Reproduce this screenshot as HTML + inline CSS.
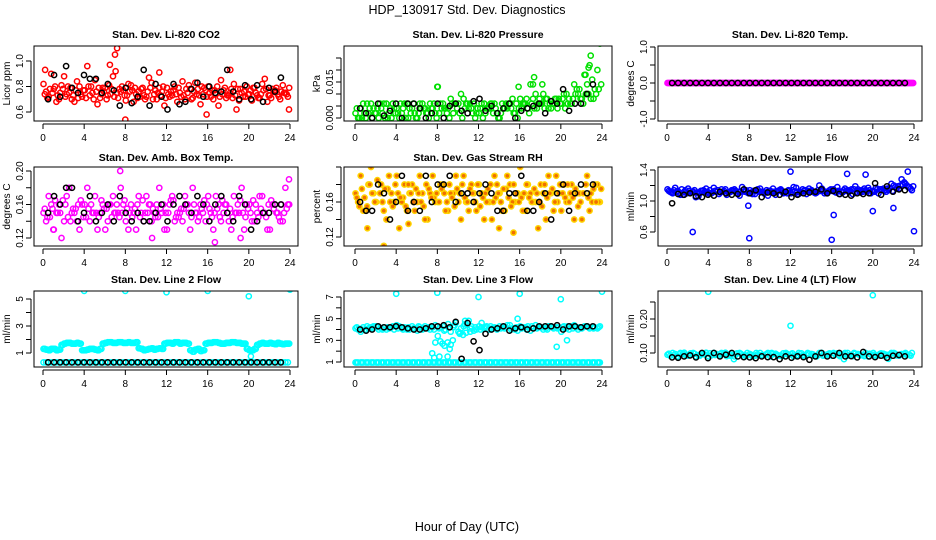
<!DOCTYPE html>
<html><head><meta charset="utf-8">
<style>
html,body{margin:0;padding:0;background:#fff;}
svg{display:block;font-family:"Liberation Sans",Arial,sans-serif;}
</style></head>
<body>
<svg id="chart" width="936" height="540" viewBox="0 0 936 540">
<text x="467" y="14" font-size="12.5" text-anchor="middle">HDP_130917  Std. Dev. Diagnostics</text>
<text x="467" y="531" font-size="12.5" text-anchor="middle">Hour of Day (UTC)</text>
</svg>
<script>
// ---------- data ----------
const xTicks = [0,4,8,12,16,20,24];
const co2A = [0.82,0.72,0.78,0.70,0.88,0.75,0.68,0.80,0.77,0.73,0.85,0.71,0.79,0.74,0.92,0.76,0.69,0.81,0.74,0.78,0.72,0.83,0.70,0.76,0.79,0.73,0.68,0.84,0.75,0.71,0.78,0.74,0.80,0.70,0.65,0.77,0.73,0.82,0.69,0.76,0.74,0.79,0.71,0.86,0.73,0.77,0.70,0.75];
const co2B = [0.76,0.90,0.68,0.81,0.74,0.70,0.84,0.72,0.96,0.75,0.66,0.79,0.73,0.88,0.71,0.77,0.82,0.68,0.76,0.73,0.87,0.74,0.79,0.65,0.72,0.80,0.75,0.70,0.78,0.83,0.66,0.77,0.72,0.74,0.85,0.71,0.78,0.62,0.75,0.80,0.69,0.73,0.82,0.68,0.78,0.74,0.81,0.72];
const co2C = [0.74,0.78,0.80,0.75,0.72,0.79,0.77,0.74,0.71,0.80,0.76,0.74,0.70,0.78,0.75,0.80,0.73,0.77,0.71,0.79,0.76,0.70,0.75,0.80,0.74,0.77,0.79,0.73,0.81,0.76,0.73,0.79,0.75,0.77,0.72,0.79,0.75,0.73,0.78,0.72,0.77,0.75,0.74,0.78,0.71,0.79,0.76,0.74];
const co2D = [0.71,0.75,0.73,0.78,0.80,0.73,0.71,0.77,0.80,0.70,0.79,0.76,0.81,0.72,0.78,0.73,0.76,0.79,0.72,0.70,0.79,0.77,0.73,0.71,0.76,0.74,0.72,0.78,0.70,0.74,0.80,0.72,0.77,0.80,0.74,0.73,0.71,0.78,0.72,0.74,0.79,0.71,0.77,0.73,0.76,0.72,0.75,0.79];
const co2Black = [0.70,0.89,0.72,0.96,0.79,0.75,0.89,0.86,0.86,0.75,0.82,0.77,0.65,0.79,0.67,0.72,0.93,0.65,0.82,0.72,0.62,0.82,0.66,0.68,0.78,0.83,0.72,0.80,0.75,0.76,0.93,0.76,0.70,0.81,0.70,0.81,0.68,0.79,0.76,0.87];
const co2OutT = [7.2,7.0,6.5,8.0,15.9,0.2,23.9,11.3,18.2];
const co2OutV = [1.10,1.05,0.97,0.54,0.58,0.93,0.62,0.91,0.93];
const co2Ticks = [0.6,0.8,1.0];

const presA = [0.002,0.004,0,0.006,0.002,0.004,0.006,0,0.004,0.002,0.006,0.004,0,0.006,0.002,0.004,0.013,0.006,0.004,0.002,0.006,0.008,0.004,0.006,0.002,0.006,0.004,0.006,0,0.004,0.006,0.002,0.008,0.006,0.014,0.010,0.006,0.008,0.004,0.008,0.006,0.010,0.006,0.012,0.008,0.014,0.016,0.020];
const presB = [0,0.006,0.002,0.004,0,0.006,0.002,0.004,0,0.006,0.004,0.002,0.006,0.004,0.006,0.002,0.006,0.004,0.008,0.006,0.010,0.006,0.004,0.002,0.006,0.004,0.006,0.002,0.006,0.004,0.008,0,0.006,0.004,0.008,0.006,0.010,0.004,0.006,0.008,0.010,0.008,0.014,0.012,0.018,0.022,0.012,0.031];
const presC = [0.004,0,0.006,0,0.004,0.002,0,0.006,0.002,0.004,0,0.006,0.002,0.004,0,0.006,0.002,0.004,0,0.006,0.002,0.004,0.006,0,0.004,0.002,0.006,0.004,0.002,0.006,0.004,0.006,0.004,0.008,0.006,0.004,0.006,0.008,0.006,0.004,0.008,0.006,0.008,0.010,0.006,0.010,0.008,0.012];
const presD = [0,0.002,0.004,0.002,0.006,0,0.004,0.002,0.006,0,0.002,0,0.004,0.002,0.004,0,0.004,0.002,0.006,0.004,0,0.006,0.002,0.004,0,0.004,0.002,0,0.004,0.006,0.002,0.004,0.006,0.002,0.004,0.008,0.004,0.006,0.008,0.006,0.004,0.006,0.010,0.008,0.010,0.008,0.010,0.014];
const presBlack = [0.004,0.002,0,0.006,0.001,0.003,0.006,0,0.006,0.006,0.004,0,0.002,0.006,0,0.005,0.006,0.003,0.002,0.007,0.008,0.003,0.005,0.002,0.004,0.006,0,0.003,0.004,0.005,0.006,0.002,0.007,0.006,0.012,0.003,0.006,0.006,0.010,0.014];
const presOutT = [8.0,17.4,17.3,22.4,22.7,22.9,15.9,18.2];
const presOutV = [0.013,0.017,0.014,0.018,0.021,0.026,0.013,0.014];
const presTicks = [0,0.005,0.010,0.015,0.020,0.025];
const presLabels = ["0.000","","","0.015","",""];

const tempA = [0,0,0,0,0,0,0,0,0,0,0,0,0,0,0,0,0,0,0,0,0,0,0,0,0,0,0,0,0,0,0,0,0,0,0,0,0,0,0,0,0,0,0,0,0,0,0,0];
const tempB = [0,0,0,0,0,0,0,0,0,0,0,0,0,0,0,0,0,0,0,0,0,0,0,0,0,0,0,0,0,0,0,0,0,0,0,0,0,0,0,0,0,0,0,0,0,0,0,0];
const tempBlack = [0,0,0,0,0,0,0,0,0,0,0,0,0,0,0,0,0,0,0,0,0,0,0,0,0,0,0,0,0,0,0,0,0,0,0,0,0,0,0,0];
const tempTicks = [-1,-0.5,0,0.5,1];
const tempLabels = ["-1.0","","0.0","","1.0"];

const ambA = [0.15,0.17,0.13,0.16,0.14,0.18,0.15,0.13,0.16,0.14,0.17,0.15,0.13,0.16,0.15,0.18,0.14,0.16,0.13,0.15,0.17,0.14,0.16,0.15,0.13,0.17,0.15,0.14,0.16,0.18,0.14,0.15,0.17,0.13,0.16,0.15,0.14,0.17,0.15,0.13,0.16,0.14,0.17,0.15,0.13,0.16,0.14,0.18];
const ambB = [0.14,0.16,0.15,0.12,0.17,0.15,0.14,0.16,0.18,0.15,0.13,0.16,0.14,0.17,0.15,0.16,0.13,0.15,0.17,0.14,0.16,0.15,0.18,0.13,0.16,0.14,0.15,0.17,0.13,0.15,0.16,0.14,0.15,0.17,0.14,0.16,0.13,0.15,0.18,0.16,0.14,0.15,0.17,0.13,0.16,0.15,0.14,0.16];
const ambC = [0.155,0.145,0.165,0.15,0.16,0.14,0.155,0.165,0.145,0.16,0.15,0.165,0.155,0.145,0.16,0.15,0.155,0.145,0.16,0.165,0.15,0.155,0.145,0.16,0.15,0.165,0.145,0.155,0.15,0.16,0.145,0.165,0.155,0.15,0.145,0.16,0.155,0.15,0.165,0.145,0.15,0.16,0.155,0.145,0.165,0.15,0.16,0.155];
const ambD = [0.145,0.155,0.15,0.165,0.145,0.155,0.16,0.145,0.155,0.15,0.145,0.155,0.16,0.15,0.145,0.165,0.15,0.155,0.145,0.15,0.16,0.145,0.155,0.15,0.165,0.145,0.155,0.16,0.145,0.15,0.155,0.16,0.145,0.155,0.165,0.15,0.145,0.16,0.15,0.155,0.165,0.145,0.15,0.16,0.155,0.145,0.15,0.16];
const ambBlack = [0.15,0.17,0.16,0.18,0.18,0.14,0.15,0.17,0.14,0.15,0.16,0.14,0.17,0.15,0.14,0.15,0.14,0.14,0.15,0.16,0.14,0.16,0.17,0.16,0.15,0.17,0.16,0.14,0.16,0.17,0.15,0.14,0.17,0.16,0.13,0.14,0.15,0.15,0.16,0.16];
const ambOutT = [7.5,23.9,16.7,19.2,1.0,10.6];
const ambOutV = [0.20,0.19,0.115,0.12,0.13,0.12];
const ambTicks = [0.12,0.14,0.16,0.18,0.20];
const ambLabels = ["0.12","","0.16","","0.20"];

const rhA = [0.17,0.19,0.15,0.20,0.16,0.18,0.14,0.17,0.19,0.16,0.15,0.18,0.16,0.17,0.14,0.19,0.16,0.18,0.15,0.17,0.16,0.19,0.15,0.17,0.18,0.14,0.16,0.19,0.17,0.15,0.18,0.16,0.20,0.15,0.17,0.16,0.18,0.14,0.17,0.19,0.15,0.16,0.18,0.17,0.14,0.19,0.16,0.18];
const rhB = [0.16,0.15,0.18,0.17,0.21,0.15,0.19,0.16,0.13,0.18,0.17,0.15,0.19,0.14,0.17,0.16,0.18,0.15,0.17,0.19,0.14,0.16,0.18,0.15,0.17,0.16,0.14,0.18,0.15,0.19,0.16,0.17,0.15,0.18,0.16,0.13,0.17,0.19,0.15,0.17,0.18,0.16,0.14,0.17,0.21,0.15,0.18,0.16];
const rhC = [0.165,0.175,0.155,0.17,0.185,0.16,0.175,0.155,0.17,0.165,0.18,0.16,0.17,0.155,0.175,0.165,0.16,0.17,0.18,0.155,0.17,0.165,0.175,0.16,0.155,0.17,0.18,0.165,0.16,0.175,0.155,0.17,0.165,0.18,0.16,0.17,0.155,0.165,0.175,0.16,0.17,0.18,0.165,0.155,0.17,0.165,0.175,0.16];
const rhD = [0.155,0.165,0.18,0.16,0.17,0.175,0.16,0.18,0.165,0.155,0.17,0.175,0.16,0.18,0.165,0.17,0.175,0.16,0.165,0.175,0.18,0.16,0.17,0.18,0.165,0.175,0.16,0.17,0.175,0.165,0.18,0.16,0.17,0.165,0.175,0.16,0.18,0.17,0.16,0.18,0.165,0.17,0.175,0.16,0.18,0.17,0.16,0.175];
const rhBlack = [0.16,0.15,0.15,0.18,0.17,0.14,0.16,0.19,0.15,0.16,0.15,0.19,0.16,0.18,0.18,0.19,0.16,0.17,0.17,0.16,0.17,0.18,0.17,0.15,0.15,0.17,0.17,0.19,0.15,0.15,0.16,0.17,0.14,0.17,0.18,0.15,0.17,0.18,0.17,0.18];
const rhOutT = [2.0,3.9,20.8,14.0,15.4,2.8,1.2,5.2];
const rhOutV = [0.215,0.215,0.215,0.13,0.125,0.11,0.13,0.135];
const rhTicks = [0.12,0.14,0.16,0.18,0.20];
const rhLabels = ["0.12","","0.16","",""];

const flowA = [1.15,1.10,1.13,1.08,1.16,1.12,1.06,1.14,1.10,1.17,1.09,1.13,1.11,1.15,1.07,1.12,1.14,1.09,1.16,1.11,1.13,1.08,1.15,1.12,1.10,1.17,1.12,1.09,1.14,1.11,1.16,1.10,1.13,1.18,1.11,1.14,1.09,1.15,1.12,1.17,1.13,1.10,1.16,1.14,1.20,1.16,1.24,1.18];
const flowB = [1.12,1.17,1.08,1.14,1.11,1.05,1.13,1.16,1.10,1.12,1.15,1.08,1.14,1.10,1.18,1.11,1.09,1.15,1.12,1.07,1.16,1.13,1.10,1.14,1.18,1.09,1.13,1.16,1.11,1.20,1.10,1.14,1.12,1.09,1.16,1.13,1.19,1.11,1.14,1.10,1.17,1.15,1.12,1.22,1.16,1.28,1.20,1.14];
const flowC = [1.13,1.14,1.11,1.12,1.13,1.14,1.10,1.12,1.14,1.13,1.11,1.15,1.12,1.13,1.12,1.14,1.11,1.13,1.12,1.14,1.11,1.12,1.13,1.10,1.14,1.12,1.15,1.13,1.12,1.14,1.13,1.12,1.15,1.13,1.14,1.12,1.15,1.13,1.16,1.14,1.12,1.15,1.14,1.17,1.18,1.20,1.22,1.16];
const flowD = [1.11,1.12,1.15,1.10,1.12,1.11,1.13,1.12,1.11,1.14,1.12,1.11,1.13,1.12,1.14,1.10,1.13,1.12,1.10,1.13,1.12,1.14,1.11,1.13,1.12,1.11,1.14,1.12,1.10,1.13,1.12,1.15,1.11,1.12,1.13,1.15,1.12,1.14,1.13,1.12,1.15,1.14,1.16,1.13,1.19,1.21,1.18,1.19];
const flowBlack = [0.97,1.09,1.08,1.10,1.06,1.05,1.08,1.07,1.12,1.10,1.08,1.09,1.15,1.10,1.14,1.05,1.11,1.10,1.08,1.12,1.05,1.08,1.10,1.11,1.12,1.15,1.10,1.13,1.09,1.08,1.07,1.10,1.09,1.10,1.23,1.08,1.19,1.12,1.15,1.14];
const flowOutT = [2.5,8.0,16.0,16.2,20.0,22.0,24.0,12.0,17.5,19.3,23.4,7.9];
const flowOutV = [0.60,0.52,0.50,0.82,0.87,0.91,0.61,1.38,1.35,1.34,1.38,0.94];
const flowTicks = [0.6,0.8,1.0,1.2,1.4];
const flowLabels = ["0.6","","1.0","","1.4"];

const l2A = [1.3,1.2,1.3,1.25,1.7,1.75,1.7,1.7,1.2,1.3,1.25,1.3,1.75,1.8,1.75,1.8,1.75,1.75,1.8,1.3,1.25,1.35,1.3,1.3,1.75,1.7,1.8,1.75,1.7,1.1,1.3,1.2,1.75,1.8,1.75,1.7,1.75,1.8,1.75,1.7,1.2,1.3,1.7,1.7,1.75,1.65,1.7,1.7];
const l2B = [1.25,1.3,1.2,1.6,1.75,1.7,1.75,1.2,1.25,1.3,1.2,1.7,1.8,1.75,1.8,1.75,1.8,1.75,1.35,1.2,1.3,1.25,1.35,1.7,1.75,1.8,1.7,1.75,1.2,1.25,1.15,1.7,1.75,1.8,1.7,1.75,1.8,1.75,1.7,1.3,1.2,1.6,1.75,1.7,1.7,1.75,1.65,1.7];
const l2Base = [0.3,0.3,0.3,0.3,0.3,0.3,0.3,0.3,0.3,0.3,0.3,0.3,0.3,0.3,0.3,0.3,0.3,0.3,0.3,0.3,0.3,0.3,0.3,0.3,0.3,0.3,0.3,0.3,0.3,0.3,0.3,0.3,0.3,0.3,0.3,0.3,0.3,0.3,0.3,0.3,0.3,0.3,0.3,0.3,0.3,0.3,0.3,0.3];
const l2Black = [0.3,0.3,0.3,0.3,0.3,0.3,0.3,0.3,0.3,0.3,0.3,0.3,0.3,0.3,0.3,0.3,0.3,0.3,0.3,0.3,0.3,0.3,0.3,0.3,0.3,0.3,0.3,0.3,0.3,0.3,0.3,0.3,0.3,0.3,0.3,0.3,0.3,0.3,0.3,0.3];
const l2OutT = [4,8,12,16,20,24,20.2];
const l2OutV = [5.6,5.6,5.5,5.6,5.2,5.7,0.75];
const l2Ticks = [1,2,3,4,5];
const l2Labels = ["1","","3","","5"];

const l3A = [4.1,3.8,4.0,4.2,4.3,4.1,4.0,4.2,4.4,4.1,4.0,4.3,3.9,4.0,4.1,4.2,3.4,4.3,4.5,4.2,3.8,4.3,4.8,3.9,4.3,4.1,4.0,4.2,4.3,4.1,4.4,4.0,4.3,4.2,3.9,4.4,4.2,4.1,4.3,4.2,3.8,4.1,4.3,4.2,4.1,4.3,4.2,4.1];
const l3B = [4.0,4.2,4.1,4.3,4.0,4.2,4.1,4.0,4.3,4.2,4.0,4.1,4.2,4.3,4.0,4.4,4.2,4.0,3.8,4.6,4.1,3.7,4.3,4.0,4.2,4.3,4.1,4.0,4.2,4.4,4.1,3.9,4.2,4.3,4.1,4.2,4.0,4.3,4.1,4.2,4.3,4.0,4.4,4.2,4.3,4.1,4.2,4.3];
const l3C = [4.2,4.0,4.3,4.1,4.2,4.0,4.2,4.3,4.1,4.0,4.2,4.1,4.3,4.1,4.2,4.0,4.1,3.9,4.2,4.4,3.6,4.5,4.1,4.2,4.0,4.2,4.3,4.1,4.1,4.2,4.0,4.2,4.1,4.0,4.3,4.1,4.2,4.0,4.2,4.1,4.2,4.3,4.1,4.0,4.2,4.2,4.1,4.2];
const l3Base = [0.95,0.95,0.95,0.95,0.95,0.95,0.95,0.95,0.95,0.95,0.95,0.95,0.95,0.95,0.95,0.95,0.95,0.95,0.95,0.95,0.95,0.95,0.95,0.95,0.95,0.95,0.95,0.95,0.95,0.95,0.95,0.95,0.95,0.95,0.95,0.95,0.95,0.95,0.95,0.95,0.95,0.95,0.95,0.95,0.95,0.95,0.95,0.95];
const l3Black = [4.0,3.9,4.0,4.3,4.2,4.2,4.3,4.2,4.1,4.0,4.0,4.1,4.3,4.3,4.4,4.2,4.7,1.3,4.6,2.9,2.1,3.6,4.0,4.1,4.3,3.9,4.1,4.2,4.0,4.1,4.3,4.3,4.3,4.4,4.0,4.3,4.3,4.2,4.3,4.3];
const l3OutT = [4,8,12,16,20,24,7.5,7.8,8.3,8.7,9.0,9.2,9.5,8.2,9.0,7.7,10.7,10.5,12.3,15.8,19.6,20.6,10.9,11.2,8.5,9.3,10.2];
const l3OutV = [7.3,7.4,7.0,7.3,6.8,7.5,1.8,2.8,2.9,2.5,2.8,2.2,3.0,1.5,1.5,1.4,4.8,3.5,4.6,5.0,2.4,3.0,4.4,3.8,2.7,2.6,3.7];
const l3Ticks = [1,2,3,4,5,6,7];
const l3Labels = ["1","","3","","5","","7"];

const l4A = [0.095,0.10,0.09,0.098,0.092,0.10,0.094,0.097,0.09,0.10,0.093,0.098,0.096,0.09,0.10,0.094,0.097,0.092,0.10,0.095,0.09,0.098,0.093,0.10,0.096,0.091,0.099,0.094,0.097,0.09,0.10,0.095,0.092,0.099,0.094,0.10,0.091,0.097,0.095,0.09,0.10,0.093,0.098,0.094,0.10,0.092,0.097,0.095];
const l4B = [0.092,0.097,0.10,0.094,0.099,0.09,0.096,0.101,0.093,0.097,0.10,0.091,0.095,0.099,0.093,0.10,0.09,0.096,0.094,0.10,0.097,0.092,0.099,0.095,0.091,0.10,0.094,0.098,0.092,0.10,0.095,0.099,0.097,0.091,0.10,0.094,0.098,0.093,0.10,0.096,0.092,0.099,0.095,0.10,0.093,0.097,0.094,0.10];
const l4C = [0.098,0.093,0.096,0.101,0.095,0.098,0.092,0.096,0.099,0.094,0.097,0.101,0.092,0.096,0.098,0.091,0.095,0.10,0.093,0.097,0.10,0.095,0.091,0.097,0.099,0.094,0.092,0.10,0.096,0.094,0.092,0.097,0.10,0.094,0.096,0.092,0.10,0.095,0.091,0.098,0.095,0.097,0.091,0.096,0.098,0.095,0.10,0.092];
const l4Black = [0.087,0.086,0.09,0.093,0.087,0.10,0.085,0.10,0.09,0.095,0.10,0.09,0.088,0.087,0.085,0.09,0.088,0.088,0.082,0.09,0.086,0.09,0.088,0.08,0.09,0.10,0.09,0.092,0.10,0.09,0.091,0.087,0.103,0.09,0.088,0.092,0.086,0.092,0.094,0.09];
const l4OutT = [4,12,20,6.5,17.2,21.5];
const l4OutV = [0.28,0.18,0.27,0.082,0.082,0.083];
const l4Ticks = [0.10,0.15,0.20,0.25];
const l4Labels = ["0.10","","0.20",""];

// ---------- layout (not data) ----------
const NS = "http://www.w3.org/2000/svg";
const svg = document.getElementById('chart');
const cols = [{bl:34,br:298,x0:43,x24:290},{bl:344,br:612,x0:355,x24:602},{bl:658,br:922,x0:667,x24:914}];
const rows = [{bt:46,bb:121,ty:38},{bt:167,bb:246,ty:161},{bt:291,bb:367,ty:283}];

function mk(tag, attrs){const e=document.createElementNS(NS,tag);for(const k in attrs)e.setAttribute(k,attrs[k]);return e;}

function panel(p){
  const c=cols[p.col], r=rows[p.row];
  const g=mk('g',{});
  
  
  svg.appendChild(g);
  const xs=v=>c.x0+(v/24)*(c.x24-c.x0);
  const ys=v=>p.ry0+(v-p.rv0)*(p.ry1-p.ry0)/(p.rv1-p.rv0);
  const clip='clip-'+p.name;
  const cp=mk('clipPath',{id:clip});
  cp.appendChild(mk('rect',{x:c.bl,y:r.bt,width:c.br-c.bl,height:r.bb-r.bt}));
  g.appendChild(cp);
  const t=mk('text',{x:(c.bl+c.br)/2,y:r.ty,'font-size':'10.5','font-weight':'bold','text-anchor':'middle'});
  t.textContent=p.title;
  
  
  g.appendChild(t);
  const pts=mk('g',{'clip-path':'url(#'+clip+')'});
  
  
  g.appendChild(pts);
  function dot(tv,v,stroke,fill){
    const ci=mk('circle',{cx:xs(tv).toFixed(1),cy:ys(v).toFixed(1),r:2.6,fill:fill||'none',stroke:stroke,'stroke-width':1.5});
    
    
    pts.appendChild(ci);
  }
  p.series.forEach(s=>{
    s.vals.forEach((v,i)=>dot(s.t0+i*s.dt,v,s.stroke,s.fill));
  });
  if(p.outT) p.outT.forEach((tv,i)=>dot(tv,p.outV[i],p.outColor,p.outFill));
  p.black.forEach((v,i)=>dot(0.5+i*0.58,v,'#000'));
  const box=mk('rect',{x:c.bl,y:r.bt,width:c.br-c.bl,height:r.bb-r.bt,fill:'none',stroke:'#000','stroke-width':1});
  
  
  g.appendChild(box);
  const xa=mk('g',{});
  
  
  g.appendChild(xa);
  xa.appendChild(mk('line',{x1:xs(0),x2:xs(24),y1:r.bb+3,y2:r.bb+3,stroke:'#000'}));
  xTicks.forEach(v=>{
    xa.appendChild(mk('line',{x1:xs(v),x2:xs(v),y1:r.bb+3,y2:r.bb+8,stroke:'#000'}));
    const l=mk('text',{x:xs(v),y:r.bb+20,'font-size':'10','text-anchor':'middle'});
    l.textContent=v;
    
    
    xa.appendChild(l);
  });
  const ya=mk('g',{});
  
  
  g.appendChild(ya);
  const tk=p.ticks;
  ya.appendChild(mk('line',{x1:c.bl-3,x2:c.bl-3,y1:ys(tk[0]),y2:ys(tk[tk.length-1]),stroke:'#000'}));
  tk.forEach((v,i)=>{
    const y=ys(v);
    ya.appendChild(mk('line',{x1:c.bl-3,x2:c.bl-8,y1:y,y2:y,stroke:'#000'}));
    const lab=p.labels[i];
    if(lab){
      const l=mk('text',{x:c.bl-11,y:y,'font-size':'10','text-anchor':'middle',transform:'rotate(-90 '+(c.bl-11)+' '+y+')'});
      l.textContent=lab;
      
      
      ya.appendChild(l);
    }
  });
  const yl=mk('text',{x:c.bl-24,y:(r.bt+r.bb)/2,'font-size':'10','text-anchor':'middle',transform:'rotate(-90 '+(c.bl-24)+' '+((r.bt+r.bb)/2)+')'});
  yl.textContent=p.ylab;
  
  
  g.appendChild(yl);
}

const A=(vals,stroke,fill)=>({vals,stroke,fill,t0:0.05,dt:0.5});
const B=(vals,stroke,fill)=>({vals,stroke,fill,t0:0.3,dt:0.5});
const C=(vals,stroke,fill)=>({vals,stroke,fill,t0:0.175,dt:0.5});
const D=(vals,stroke,fill)=>({vals,stroke,fill,t0:0.425,dt:0.5});
const RED='#ff0000',GRN='#00e000',MAG='#ff00ff',BLU='#0000ff',CYA='#00ffff',YEL='#ffd400',ORG='#f07000';

panel({name:'panel-co2',col:0,row:0,title:'Stan. Dev. Li-820 CO2',ylab:'Licor ppm',rv0:0.6,ry0:112,rv1:1.0,ry1:61,ticks:co2Ticks,labels:["0.6","0.8","1.0"],series:[A(co2A,RED),B(co2B,RED),C(co2C,RED),D(co2D,RED)],outT:co2OutT,outV:co2OutV,outColor:RED,black:co2Black});
panel({name:'panel-pressure',col:1,row:0,title:'Stan. Dev. Li-820 Pressure',ylab:'kPa',rv0:0,ry0:118,rv1:0.015,ry1:82,ticks:presTicks,labels:presLabels,series:[A(presA,GRN),B(presB,GRN),C(presC,GRN),D(presD,GRN)],outT:presOutT,outV:presOutV,outColor:GRN,black:presBlack});
panel({name:'panel-temp',col:2,row:0,title:'Stan. Dev. Li-820 Temp.',ylab:'degrees C',rv0:0,ry0:83,rv1:1,ry1:47,ticks:tempTicks,labels:tempLabels,series:[A(tempA,MAG),B(tempB,MAG),C(tempA,MAG),D(tempB,MAG)],black:tempBlack});
panel({name:'panel-amb-box-temp',col:0,row:1,title:'Stan. Dev. Amb. Box Temp.',ylab:'degrees C',rv0:0.12,ry0:238,rv1:0.20,ry1:171,ticks:ambTicks,labels:ambLabels,series:[A(ambA,MAG),B(ambB,MAG),C(ambC,MAG),D(ambD,MAG)],outT:ambOutT,outV:ambOutV,outColor:MAG,black:ambBlack});
panel({name:'panel-gas-rh',col:1,row:1,title:'Stan. Dev. Gas Stream RH',ylab:'percent',rv0:0.12,ry0:237,rv1:0.16,ry1:202,ticks:rhTicks,labels:rhLabels,series:[A(rhA,YEL,ORG),B(rhB,YEL,ORG),C(rhC,YEL,ORG),D(rhD,YEL,ORG)],outT:rhOutT,outV:rhOutV,outColor:YEL,outFill:ORG,black:rhBlack});
panel({name:'panel-sample-flow',col:2,row:1,title:'Stan. Dev. Sample Flow',ylab:'ml/min',rv0:1.0,ry0:201,rv1:1.4,ry1:170,ticks:flowTicks,labels:flowLabels,series:[A(flowA,BLU),B(flowB,BLU),C(flowC,BLU),D(flowD,BLU)],outT:flowOutT,outV:flowOutV,outColor:BLU,black:flowBlack});
panel({name:'panel-line2-flow',col:0,row:2,title:'Stan. Dev. Line 2 Flow',ylab:'ml/min',rv0:1,ry0:353,rv1:5,ry1:299,ticks:l2Ticks,labels:l2Labels,series:[A(l2A,CYA),B(l2B,CYA),C(l2A,CYA),D(l2B,CYA),A(l2Base,CYA),B(l2Base,CYA)],outT:l2OutT,outV:l2OutV,outColor:CYA,black:l2Black});
panel({name:'panel-line3-flow',col:1,row:2,title:'Stan. Dev. Line 3 Flow',ylab:'ml/min',rv0:1,ry0:362,rv1:7,ry1:297,ticks:l3Ticks,labels:l3Labels,series:[A(l3A,CYA),B(l3B,CYA),C(l3C,CYA),A(l3Base,CYA),B(l3Base,CYA),C(l3Base,CYA)],outT:l3OutT,outV:l3OutV,outColor:CYA,black:l3Black});
panel({name:'panel-line4-flow',col:2,row:2,title:'Stan. Dev. Line 4 (LT) Flow',ylab:'ml/min',rv0:0.10,ry0:353,rv1:0.20,ry1:319,ticks:l4Ticks,labels:l4Labels,series:[A(l4A,CYA),B(l4B,CYA),C(l4C,CYA)],outT:l4OutT,outV:l4OutV,outColor:CYA,black:l4Black});
</script>
</body></html>
